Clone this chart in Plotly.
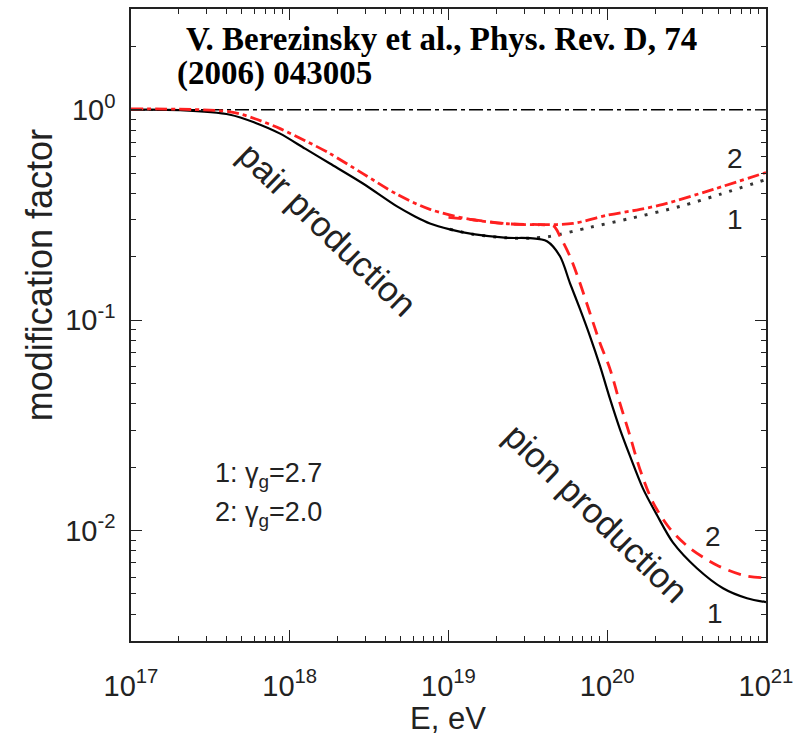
import plotly.graph_objects as go

# ---------------- data ----------------
# curve 1 (gamma_g = 2.7): pair + pion production (solid black)
E_c1_pion = [1.0e17, 2.04e17, 4.21e17, 6.04e17, 8.69e17, 1.25e18, 1.79e18, 2.89e18, 4.74e18,
             6.15e18, 7.64e18, 1.02e19, 1.43e19, 2.34e19, 3.26e19, 4.17e19, 5.04e19, 5.82e19,
             6.73e19, 7.78e19, 9.0e19, 1.04e20, 1.20e20, 1.39e20, 1.68e20, 2.06e20, 2.59e20,
             3.67e20, 5.36e20, 7.59e20, 1.0e21]
M_c1_pion = [1.0, 0.995, 0.947, 0.868, 0.770, 0.653, 0.555, 0.446, 0.347,
             0.311, 0.288, 0.270, 0.256, 0.246, 0.245, 0.237, 0.201, 0.150,
             0.113, 0.0839, 0.0605, 0.0423, 0.0304, 0.0226, 0.0158, 0.0118, 0.00877,
             0.00661, 0.00531, 0.00476, 0.00456]

# curve 1 (gamma_g = 2.7): pair production only (dotted black)
E_c1_pair = [1.02e19, 1.43e19, 2.34e19, 3.26e19, 4.36e19, 7.78e19, 1.39e20, 2.87e20, 5.13e20, 1.0e21]
M_c1_pair = [0.270, 0.256, 0.246, 0.245, 0.250, 0.276, 0.304, 0.347, 0.396, 0.466]

# curve 2 (gamma_g = 2.0): pair production only (red dash-dot)
E_c2_pair = [1.0e17, 4.21e17, 6.04e17, 8.69e17, 1.25e18, 1.79e18, 2.89e18, 4.74e18, 7.64e18,
             1.37e19, 2.34e19, 3.78e19, 6.09e19, 1.0e20, 1.61e20, 2.25e20, 4.65e20, 1.0e21]
M_c2_pair = [1.01, 0.978, 0.906, 0.813, 0.713, 0.619, 0.497, 0.396, 0.336,
             0.301, 0.287, 0.284, 0.288, 0.315, 0.336, 0.355, 0.418, 0.503]

# curve 2 (gamma_g = 2.0): pair + pion production (red dashed)
E_c2_pion = [1.0e19, 1.37e19, 2.34e19, 3.78e19, 4.6e19, 5.04e19, 5.82e19, 6.73e19, 7.78e19,
             9.0e19, 1.04e20, 1.20e20, 1.39e20, 1.60e20, 1.94e20, 2.48e20, 3.32e20, 4.91e20,
             7.16e20, 1.0e21]
M_c2_pion = [0.308, 0.301, 0.287, 0.284, 0.280, 0.250, 0.201, 0.150, 0.108,
             0.0778, 0.0586, 0.0404, 0.0282, 0.0197, 0.0136, 0.0102, 0.00822, 0.00683,
             0.00612, 0.00593]

# reference level (no modification)
E_ref = [1.0e17, 1.0e21]
M_ref = [1.0, 1.0]

x_tickvals = [1e17, 1e18, 1e19, 1e20, 1e21]
x_ticktext = ["10<sup>17</sup>", "10<sup>18</sup>", "10<sup>19</sup>", "10<sup>20</sup>", "10<sup>21</sup>"]
y_tickvals = [1e-2, 1e-1, 1e0]
y_ticktext = ["10<sup>-2</sup>", "10<sup>-1</sup>", "10<sup>0</sup>"]

# ---------------- figure ----------------
W, H = 805, 736
L, R, T, B = 131, 39, 7, 95
PW, PH = W - L - R, H - T - B


def px(x):
    return (x - L) / PW


def py(y):
    return (H - B - y) / PH


fig = go.Figure()
fig.add_trace(go.Scatter(x=E_ref, y=M_ref, mode="lines",
                         line=dict(color="black", width=1.5, dash="14px,4px,4px,4px")))
fig.add_trace(go.Scatter(x=E_c1_pair, y=M_c1_pair, mode="lines", line_shape="spline",
                         line=dict(color="#333333", width=3, dash="3px,8px", smoothing=0.85)))
fig.add_trace(go.Scatter(x=E_c1_pion, y=M_c1_pion, mode="lines", line_shape="spline",
                         line=dict(color="black", width=2.2, smoothing=0.85)))
fig.add_trace(go.Scatter(x=E_c2_pion, y=M_c2_pion, mode="lines", line_shape="spline",
                         line=dict(color="#ff2020", width=2.8, dash="13px,8px", smoothing=0.85)))
fig.add_trace(go.Scatter(x=E_c2_pair, y=M_c2_pair, mode="lines", line_shape="spline",
                         line=dict(color="#ff2020", width=2.8, dash="12px,4px,4px,4px",
                                   smoothing=0.85)))

minor_x = [m * 10.0 ** d for d in range(17, 21) for m in range(2, 10)]
minor_y = [m * 10.0 ** d for d in range(-3, 1) for m in range(2, 10)]

axis_common = dict(
    type="log", showgrid=False, zeroline=False,
    showline=True, linecolor="#222222", linewidth=1.5, mirror="allticks",
    ticks="inside", ticklen=11, tickwidth=1.2, tickcolor="#222222",
    tickfont=dict(family="Liberation Sans, Arial, sans-serif", size=29, color="#222222"),
)

fig.update_xaxes(**axis_common, range=[17, 21], tickmode="array",
                 tickvals=x_tickvals, ticktext=x_ticktext, ticklabelstandoff=18,
                 minor=dict(ticks="inside", ticklen=5, tickwidth=1.2, tickcolor="#222222",
                            tickmode="array", tickvals=minor_x, showgrid=False))
fig.update_yaxes(**axis_common, range=[-2.526, 0.479], tickmode="array",
                 tickvals=y_tickvals, ticktext=y_ticktext, ticklabelstandoff=8,
                 minor=dict(ticks="inside", ticklen=5, tickwidth=1.2, tickcolor="#222222",
                            tickmode="array", tickvals=minor_y, showgrid=False))

sans = "Liberation Sans, Arial, sans-serif"
serif = "Liberation Serif, Times New Roman, serif"
ann = []


def add(text, x, y, size, family=sans, angle=0, xanchor="center", color="#222222"):
    ann.append(dict(text=text, x=px(x), y=py(y), xref="paper", yref="paper",
                    showarrow=False, textangle=angle, xanchor=xanchor, yanchor="middle",
                    font=dict(family=family, size=size, color=color)))


add("<b>V. Berezinsky et al., Phys. Rev. D, 74</b>", 184, 37, 33, family=serif,
    xanchor="left", color="black")
add("<b>(2006) 043005</b>", 175, 72, 33, family=serif, xanchor="left", color="black")
add("pair production", 328, 228, 35, angle=44)
add("pion production", 596, 512, 35, angle=44)
add("1: γ<sub>g</sub>=2.7", 213, 474, 27, xanchor="left")
add("2: γ<sub>g</sub>=2.0", 213, 514, 27, xanchor="left")
add("2", 735, 157, 28)
add("1", 735, 218, 28)
add("2", 713, 536, 28)
add("1", 715, 613, 28)
add("E, eV", 448, 719, 31)
add("modification factor", 39, 274, 36, angle=-90)

fig.update_layout(
    width=W, height=H, margin=dict(l=L, r=R, t=T, b=B),
    paper_bgcolor="white", plot_bgcolor="white", showlegend=False,
    annotations=ann,
)

fig.write_html("out.html")
